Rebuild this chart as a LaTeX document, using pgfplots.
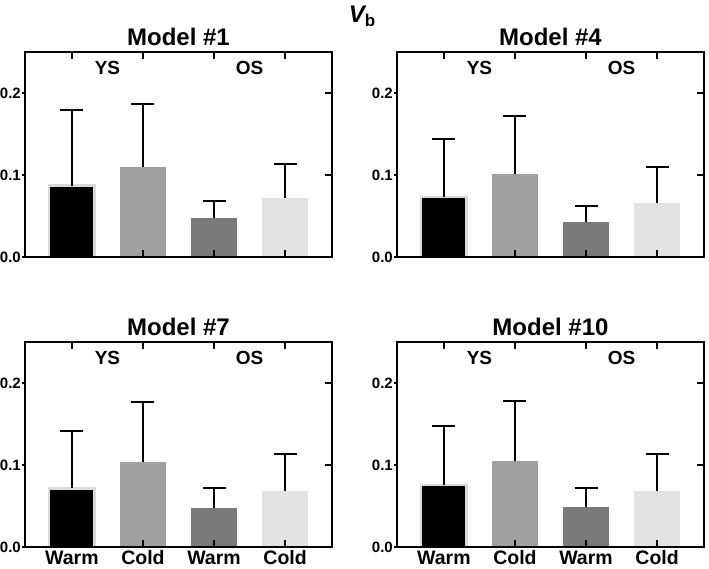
\documentclass[border=0pt]{standalone}
\usepackage{pgfplots}
\pgfplotsset{compat=1.18}
\usepackage{fontspec}
\setmainfont{Liberation Sans}

\definecolor{cGray}{HTML}{A0A0A0}
\definecolor{cDark}{HTML}{7A7A7A}
\definecolor{cLight}{HTML}{E3E3E3}
\definecolor{cEdge}{HTML}{DADADA}

\pgfplotsset{
  panel/.style={
    width=307pt, height=205pt, scale only axis, anchor=north west,
    xmin=-0.66, xmax=3.66, ymin=0, ymax=0.25,
    xtick={0,1,2,3}, xtick pos=both,
    ytick={0,0.1,0.2}, ytick pos=right, yticklabel pos=left,
    tick align=inside, major tick length=7pt,
    tick style={black, line width=1.6pt},
    axis line style={line width=1.6pt},
    axis on top, clip=false,
    xticklabels={},
    yticklabel style={font=\fontsize{15}{17}\selectfont\bfseries, inner sep=0pt, xshift=-4pt},
    /pgf/number format/fixed, /pgf/number format/fixed zerofill,
    /pgf/number format/precision=1, /pgf/number format/assume math mode=true,
  },
  leftticks/.style={
    width=307pt, height=205pt, scale only axis, anchor=north west,
    xmin=-0.66, xmax=3.66, ymin=0, ymax=0.25,
    axis x line=none, axis y line*=left, y axis line style={-, line width=1.6pt},
    ytick={0,0.1,0.2}, yticklabels={},
    tick align=outside, major tick length=3pt,
    tick style={black, line width=1.6pt},
  },
  bottomlabels/.style={
    xticklabels={Warm,Cold,Warm,Cold},
    xticklabel style={font=\fontsize{19.5}{22}\selectfont\bfseries, inner sep=0pt,
      text height=14pt, text depth=0pt, anchor=north, yshift=-3pt},
  },
  barbase/.style={
    ybar, bar width=0.64, bar shift=0pt,
    /pgfplots/error bars/y dir=plus,
    /pgfplots/error bars/y explicit,
    /pgfplots/error bars/error bar style={line width=2pt, black},
    /pgfplots/error bars/error mark options={rotate=90, mark size=11.5pt, line width=2pt, black},
  },
  bBlack/.style={barbase, fill=black, draw=cEdge, line width=2.5pt},
  bGray/.style={barbase, fill=cGray, draw=none},
  bDark/.style={barbase, fill=cDark, draw=none},
  bLight/.style={barbase, fill=cLight, draw=none},
}

\newcommand{\paneltext}[1]{%
  \node[anchor=base, font=\fontsize{24}{28}\selectfont\bfseries] at (rel axis cs:0.5,1) [yshift=7pt] {#1};
  \node[anchor=base, font=\fontsize{19}{22}\selectfont\bfseries] at (axis cs:0.5,0.222) {YS};
  \node[anchor=base, font=\fontsize{19}{22}\selectfont\bfseries] at (axis cs:2.5,0.222) {OS};
}

\begin{document}
\begin{tikzpicture}
\useasboundingbox (0pt,0pt) rectangle (709pt,-568pt);

\node[anchor=base] at (362pt,-22pt) {\fontsize{24}{28}\selectfont\bfseries\itshape V\upshape\raisebox{-4pt}{\fontsize{17}{20}\selectfont b}};

% Model #1
\begin{axis}[leftticks, at={(25pt,-52pt)}]\end{axis}
\begin{axis}[panel, at={(25pt,-52pt)}]
\addplot[bBlack] coordinates {(0,0.087) +- (0,0.092)};
\addplot[bGray]  coordinates {(1,0.110) +- (0,0.077)};
\addplot[bDark]  coordinates {(2,0.048) +- (0,0.020)};
\addplot[bLight] coordinates {(3,0.072) +- (0,0.042)};
\paneltext{Model \#1}
\end{axis}

% Model #4
\begin{axis}[leftticks, at={(397pt,-52pt)}]\end{axis}
\begin{axis}[panel, at={(397pt,-52pt)}]
\addplot[bBlack] coordinates {(0,0.073) +- (0,0.0705)};
\addplot[bGray]  coordinates {(1,0.1016) +- (0,0.0704)};
\addplot[bDark]  coordinates {(2,0.043) +- (0,0.019)};
\addplot[bLight] coordinates {(3,0.066) +- (0,0.044)};
\paneltext{Model \#4}
\end{axis}

% Model #7
\begin{axis}[leftticks, at={(25pt,-342pt)}]\end{axis}
\begin{axis}[panel, bottomlabels, at={(25pt,-342pt)}]
\addplot[bBlack] coordinates {(0,0.0714) +- (0,0.0706)};
\addplot[bGray]  coordinates {(1,0.104) +- (0,0.073)};
\addplot[bDark]  coordinates {(2,0.048) +- (0,0.0234)};
\addplot[bLight] coordinates {(3,0.068) +- (0,0.045)};
\paneltext{Model \#7}
\end{axis}

% Model #10
\begin{axis}[leftticks, at={(397pt,-342pt)}]\end{axis}
\begin{axis}[panel, bottomlabels, at={(397pt,-342pt)}]
\addplot[bBlack] coordinates {(0,0.0756) +- (0,0.0724)};
\addplot[bGray]  coordinates {(1,0.1045) +- (0,0.0735)};
\addplot[bDark]  coordinates {(2,0.049) +- (0,0.023)};
\addplot[bLight] coordinates {(3,0.0687) +- (0,0.0453)};
\paneltext{Model \#10}
\end{axis}
\end{tikzpicture}
\end{document}
